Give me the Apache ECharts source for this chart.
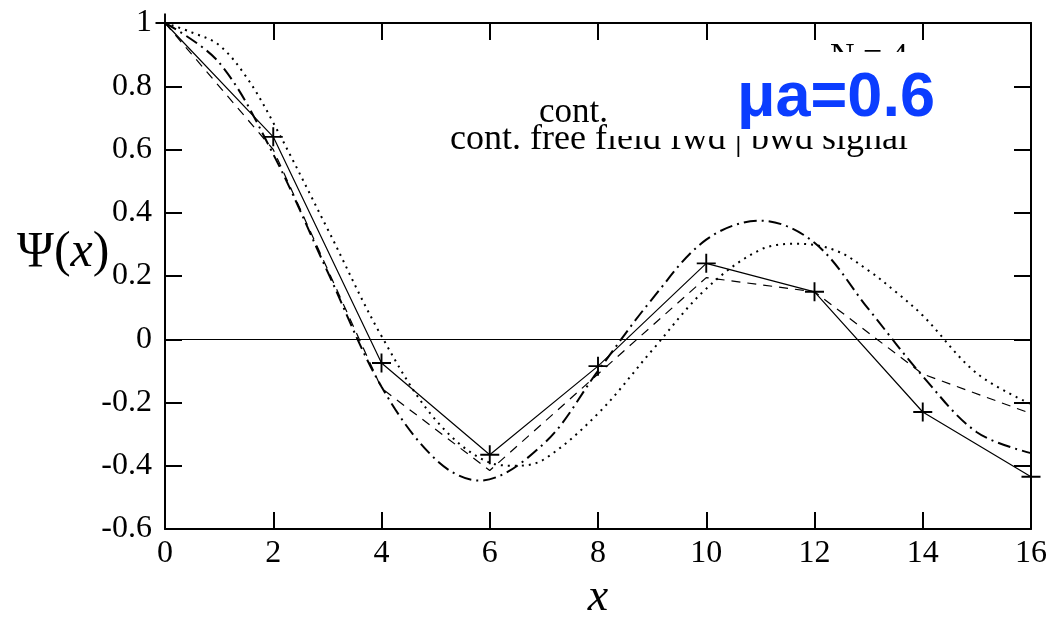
<!DOCTYPE html>
<html>
<head>
<meta charset="utf-8">
<script src="https://cdn.jsdelivr.net/npm/echarts@6/dist/echarts.min.js"></script>
<style>
  html, body { margin: 0; padding: 0; background: #fff; }
  #psi { width: 1051px; height: 617px; }
</style>
</head>
<body>
<div id="psi"></div>
<script>
// lattice points (x = 0, 2, ... 16)
const latticeX = [0, 2, 4, 6, 8, 10, 12, 14, 16];
const latticeSignal = [1, 0.64, -0.075, -0.365, -0.085, 0.24, 0.15, -0.23, -0.435];
const latticeFwdBwd = [1, 0.6, -0.155, -0.415, -0.11, 0.195, 0.15, -0.11, -0.235];
// continuum curves
const contX = [0, 1, 2, 3, 4, 5, 5.8, 7, 8, 9, 10, 11, 12, 13, 14, 15, 16];
const contSignal = [1, 0.875, 0.585, 0.215, -0.15, -0.38, -0.447, -0.33, -0.1, 0.127, 0.315, 0.375, 0.305, 0.095, -0.117, -0.294, -0.36];
const freeX = [0, 0.5, 1, 1.5, 2, 3, 4, 5, 6, 6.5, 7, 8, 9, 10, 11, 11.7, 12.4, 13, 13.5, 14, 15, 16];
const freeField = [1, 0.97, 0.93, 0.83, 0.685, 0.35, 0.01, -0.255, -0.39, -0.4, -0.38, -0.235, -0.035, 0.16, 0.283, 0.302, 0.28, 0.217, 0.15, 0.075, -0.108, -0.205];

const pairs = (xs, ys) => xs.map((x, i) => [x, ys[i]]);
const serif = "Liberation Serif";
const plusSymbol = "path://M-1,-10 h2 v20 h-2 z M-10,-1 h20 v2 h-20 z";

let chart = echarts.init(document.getElementById("psi"));

const axisLine = { show: true, onZero: false, lineStyle: { color: "#000", width: 2 } };
const axisTick = { show: true, inside: true, length: 17, lineStyle: { color: "#000", width: 2 } };

let option = {
  animation: false,
  backgroundColor: "#fff",
  grid: { left: 165, right: 20, top: 23, bottom: 88, containLabel: false, outerBoundsMode: "none" },
  xAxis: [
    {
      type: "value",
      min: 0,
      max: 16,
      interval: 2,
      name: "x",
      nameLocation: "middle",
      nameGap: 46,
      nameTextStyle: { fontFamily: serif, fontStyle: "italic", fontSize: 46, color: "#000" },
      axisLine: axisLine,
      axisTick: axisTick,
      axisLabel: { fontFamily: serif, fontSize: 32, color: "#000", margin: 9 },
      splitLine: { show: false }
    },
    {
      type: "value",
      position: "top",
      min: 0,
      max: 16,
      interval: 2,
      axisLine: axisLine,
      axisTick: axisTick,
      axisLabel: { show: false },
      splitLine: { show: false }
    }
  ],
  yAxis: [
    {
      type: "value",
      min: -0.6,
      max: 1,
      interval: 0.2,
      axisLine: axisLine,
      axisTick: axisTick,
      axisLabel: { fontFamily: serif, fontSize: 32, color: "#000", margin: 13 },
      splitLine: { show: false }
    },
    {
      type: "value",
      position: "right",
      min: -0.6,
      max: 1,
      interval: 0.2,
      axisLine: axisLine,
      axisTick: axisTick,
      axisLabel: { show: false },
      splitLine: { show: false }
    }
  ],
  graphic: [
    {
      type: "text",
      left: 17,
      top: 228,
      style: {
        text: "{n|Ψ(}{i|x}{n|)}",
        rich: {
          n: { fontFamily: serif, fontSize: 50, fill: "#000" },
          i: { fontFamily: serif, fontSize: 50, fontStyle: "italic", fill: "#000" }
        }
      }
    },
    {
      type: "text", x: 830, y: 57, z: 10,
      style: { text: "N = 4", fontFamily: serif, fontSize: 34, fill: "#000", verticalAlign: "middle" }
    },
    {
      type: "text", x: 539, y: 113, z: 10,
      style: { text: "cont.", fontFamily: serif, fontSize: 35, fill: "#000", verticalAlign: "middle" }
    },
    {
      type: "text", x: 450, y: 140, z: 10,
      style: { text: "cont. free field fwd | bwd signal", fontFamily: serif, fontSize: 36, fill: "#000", verticalAlign: "middle" }
    },
    {
      type: "rect", z: 20,
      shape: { x: 607, y: 52, width: 398, height: 84 },
      style: { fill: "#fff" }
    },
    {
      type: "text", x: 737, y: 99, z: 30,
      style: { text: "μa=0.6", fontFamily: "Liberation Sans", fontWeight: "bold", fontSize: 63, fill: "#0b3dff", verticalAlign: "middle" }
    }
  ],
  series: [
    {
      name: "lattice signal",
      type: "line",
      data: pairs(latticeX, latticeSignal),
      symbol: plusSymbol,
      symbolSize: 19,
      showAllSymbol: true,
      itemStyle: { color: "#000" },
      lineStyle: { color: "#000", width: 1.2 },
      markLine: {
        silent: true,
        symbol: "none",
        label: { show: false },
        lineStyle: { color: "#000", width: 1.2, type: "solid" },
        data: [{ yAxis: 0 }]
      }
    },
    {
      name: "lattice fwd | bwd signal",
      type: "line",
      data: pairs(latticeX, latticeFwdBwd),
      symbol: "none",
      lineStyle: { color: "#000", width: 1.2, type: [9, 7] }
    },
    {
      name: "cont. signal",
      type: "line",
      data: pairs(contX, contSignal),
      smooth: 0.35,
      symbol: "none",
      lineStyle: { color: "#000", width: 2, type: [13, 5, 2, 5] }
    },
    {
      name: "cont. free field fwd | bwd signal",
      type: "line",
      data: pairs(freeX, freeField),
      smooth: 0.35,
      symbol: "none",
      lineStyle: { color: "#000", width: 2, type: [2, 5] }
    }
  ]
};
chart.setOption(option);
</script>
</body>
</html>
